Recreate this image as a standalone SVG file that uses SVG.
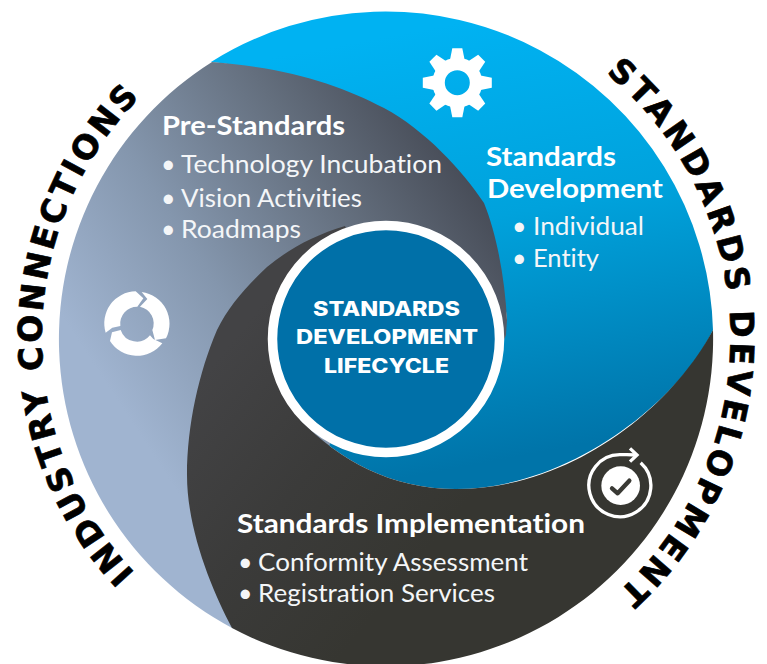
<svg xmlns="http://www.w3.org/2000/svg" xmlns:xlink="http://www.w3.org/1999/xlink" width="767" height="664" viewBox="0 0 767 664">
<style>
text{font-variant-ligatures:none}
.h{font-family:"Lato","Open Sans",sans-serif;font-weight:700;font-size:26.5px;fill:#fff}
.b{font-family:"Lato","Open Sans",sans-serif;font-weight:400;font-size:25px;fill:#f4f6f8}
.c{font-family:"Inter","Liberation Sans",sans-serif;font-weight:800;font-size:20px;fill:#fff;text-anchor:middle}
.r{font-family:"DejaVu Sans","Liberation Sans",sans-serif;font-weight:700;font-size:33px;fill:#000;stroke:#000;stroke-width:.7px}
</style>
<defs>
<linearGradient id="gb" gradientUnits="userSpaceOnUse" x1="420" y1="30" x2="500" y2="460"><stop offset="0" stop-color="#00b2f2"/><stop offset=".45" stop-color="#00a2dc"/><stop offset="1" stop-color="#0074a9"/></linearGradient>
<linearGradient id="gg" gradientUnits="userSpaceOnUse" x1="130" y1="420" x2="480" y2="190"><stop offset="0" stop-color="#a0b4d0"/><stop offset=".35" stop-color="#8496ad"/><stop offset=".7" stop-color="#646f7e"/><stop offset="1" stop-color="#474c57"/></linearGradient>
<linearGradient id="gd" gradientUnits="userSpaceOnUse" x1="200" y1="380" x2="420" y2="560"><stop offset="0" stop-color="#434345"/><stop offset=".5" stop-color="#3b3b3a"/><stop offset="1" stop-color="#363631"/></linearGradient>
<path id="ringL" d="M135 573A344 344 0 0 1 139 98"/>
<path id="ringR" d="M606 73A344 344 0 0 1 616 594"/>
<polygon id="tooth" points="-5 -34.500 5 -34.500 7.500 -22 -7.500 -22" fill="#fff"/>
</defs>
<g id="connectors"></g>
<g id="standards-development">
<path fill="url(#gb)" d="M211 62A327.500 327.500 0 0 1 713 330C680 400 570 489 456 489C390 489 340 460 300 420L386 339L507 320C500 230 400 80 211 62Z"/>
</g>
<g id="pre-standards">
<path fill="url(#gg)" d="M232 628A327.500 327.500 0 0 1 212 62C290 68 340 85 384 108C425 130 462 170 484 203C497 235 505 280 507 320L506 335L500 350L386 339Z"/>
</g>
<g id="standards-implementation">
<path fill="url(#gd)" d="M713 330A327.500 327.500 0 0 1 232 628C212 590 187 530 187 475C187 425 199 372 217 330C229 305 248 285 267 267C290 248 315 235 345 226L386 339L300 420C340 460 390 489 456 489C570 489 670 410 713 330Z"/>
</g>
<g id="lifecycle">
<circle cx="386" cy="339" r="113.500" fill="#0070a8" stroke="#fff" stroke-width="9.500"/>
<text class="c" x="386.500" y="315.500" textLength="147" lengthAdjust="spacingAndGlyphs">STANDARDS</text>
<text class="c" x="387" y="344" textLength="182" lengthAdjust="spacingAndGlyphs">DEVELOPMENT</text>
<text class="c" x="386.500" y="372.500" textLength="125" lengthAdjust="spacingAndGlyphs">LIFECYCLE</text>
</g>
<g id="industry-connections-label"><text class="r"><textPath xlink:href="#ringL" href="#ringL" textLength="525" lengthAdjust="spacing">INDUSTRY CONNECTIONS</textPath></text></g>
<g id="standards-development-label"><text class="r"><textPath xlink:href="#ringR" href="#ringR" textLength="588" lengthAdjust="spacing">STANDARDS DEVELOPMENT</textPath></text></g>
<g id="gear-icon" transform="translate(457.300 82.700)">
<path fill-rule="evenodd" fill="#fff" d="M0-25A25 25 0 1 1 0 25A25 25 0 1 1 0-25ZM0-12.500A12.500 12.500 0 1 0 0 12.500A12.500 12.500 0 1 0 0-12.500Z"/>
<use href="#tooth"/><use href="#tooth" transform="rotate(45)"/><use href="#tooth" transform="rotate(90)"/><use href="#tooth" transform="rotate(135)"/><use href="#tooth" transform="rotate(180)"/><use href="#tooth" transform="rotate(225)"/><use href="#tooth" transform="rotate(270)"/><use href="#tooth" transform="rotate(315)"/>
</g>
<g id="cycle-icon" transform="translate(90 280) scale(.3333)" fill="#fff">
<path d="M47 158A96 96 0 0 1 137 34L160 55L142 80A51 51 0 0 0 91 138L67 143Z"/>
<path d="M155 36A96 96 0 0 1 228 175L195 180L187 150A51 51 0 0 0 150 80L172 57Z"/>
<path d="M66 157L92 150A51 51 0 0 0 180 166L190 177L217 190A96 96 0 0 1 60 183Z"/>
</g>
<g id="check-icon" transform="translate(575 440) scale(.3333)">
<path d="M197 68A93 93 0 1 1 137 44Q165 43 184 45" fill="none" stroke="#fff" stroke-width="10"/>
<path d="M165 25L186 45L165 65" fill="none" stroke="#fff" stroke-width="10"/>
<circle cx="137" cy="137" r="58" fill="#fff"/>
<path d="M111 145L128 160L163 122" fill="none" stroke="#3a3a35" stroke-width="13" stroke-linejoin="round" stroke-linecap="round"/>
</g>
<g id="pre-standards-text">
<text class="h" x="162" y="135" textLength="183" lengthAdjust="spacingAndGlyphs">Pre-Standards</text>
<text class="b" x="161" y="173">•</text><text class="b" x="181" y="173" textLength="261" lengthAdjust="spacingAndGlyphs">Technology Incubation</text>
<text class="b" x="161" y="207">•</text><text class="b" x="181" y="207" textLength="181" lengthAdjust="spacingAndGlyphs">Vision Activities</text>
<text class="b" x="161" y="238">•</text><text class="b" x="181" y="238" textLength="120" lengthAdjust="spacingAndGlyphs">Roadmaps</text>
</g>
<g id="standards-development-text">
<text class="h" x="486" y="166" textLength="130" lengthAdjust="spacingAndGlyphs">Standards</text>
<text class="h" x="487" y="197.500" textLength="176" lengthAdjust="spacingAndGlyphs">Development</text>
<text class="b" x="512" y="235">•</text><text class="b" x="533" y="235" textLength="111" lengthAdjust="spacingAndGlyphs">Individual</text>
<text class="b" x="512" y="267">•</text><text class="b" x="533" y="267" textLength="66" lengthAdjust="spacingAndGlyphs">Entity</text>
</g>
<g id="standards-implementation-text">
<text class="h" x="237" y="532.500" textLength="348" lengthAdjust="spacingAndGlyphs">Standards Implementation</text>
<text class="b" x="238" y="570.500">•</text><text class="b" x="258" y="570.500" textLength="270" lengthAdjust="spacingAndGlyphs">Conformity Assessment</text>
<text class="b" x="238" y="601.500">•</text><text class="b" x="258" y="601.500" textLength="237" lengthAdjust="spacingAndGlyphs">Registration Services</text>
</g>
</svg>
